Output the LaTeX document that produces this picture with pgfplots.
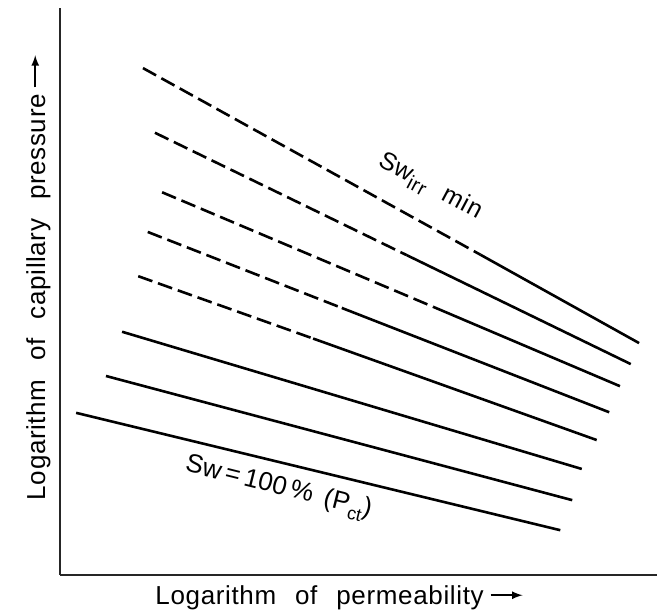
\documentclass[border=0pt]{standalone}
\usepackage{pgfplots}
\pgfplotsset{compat=1.18}
\usepackage{fontspec}
\setmainfont{Liberation Sans}
\newfontfamily\labfont[WordSpace=2.4, LetterSpace=2.5]{Liberation Sans}
\newcommand{\longarrow}{\hspace{3pt}\tikz[baseline=-0.1ex]\draw[line width=0.8pt, -{latex}] (0,4.2pt) -- (16pt,4.2pt);}

\begin{document}
\begin{tikzpicture}
\path[use as bounding box] (0,0) rectangle (330pt,305.5pt);
\begin{axis}[
    at={(30pt,18pt)}, anchor=south west,
    scale only axis, width=298.5pt, height=283.5pt,
    xmin=0, xmax=100, ymin=0, ymax=100,
    axis lines=left,
    axis line style={-, line width=1pt, black!85},
    xtick=\empty, ytick=\empty,
    clip=false,
    solid line/.style={black, line width=1.3pt},
    dashed line/.style={black, line width=1.3pt, dash pattern=on 7.5pt off 3pt},
  ]
  % dashed parts (upper five curves)
  \addplot[dashed line] coordinates {(13.9,89.4) (70.4,56.5)};
  \addplot[dashed line] coordinates {(15.9,78.0) (58.1,56.4)};
  \addplot[dashed line] coordinates {(17.1,67.5) (62.5,47.3)};
  \addplot[dashed line] coordinates {(14.7,60.5) (47.2,47.1)};
  \addplot[dashed line] coordinates {(13.1,52.7) (42.4,41.7)};
  % solid parts
  \addplot[solid line] coordinates {(70.4,56.5) (97.0,40.9)};
  \addplot[solid line] coordinates {(58.1,56.4) (95.6,37.2)};
  \addplot[solid line] coordinates {(62.5,47.3) (93.8,33.3)};
  \addplot[solid line] coordinates {(47.2,47.1) (92.0,28.7)};
  \addplot[solid line] coordinates {(42.4,41.7) (89.9,23.8)};
  \addplot[solid line] coordinates {(10.4,42.9) (87.4,18.7)};
  \addplot[solid line] coordinates {(7.7,35.1) (85.8,13.2)};
  \addplot[solid line] coordinates {(2.7,28.6) (83.8,7.9)};

  \node[rotate=-28] at (axis cs:62.0,68.4)
    {\labfont\fontsize{12.5}{14}\selectfont Sw\raisebox{-0.45ex}{\fontsize{10}{11}\selectfont irr} min};
  \node[rotate=-14] at (axis cs:36.6,15.3)
    {\fontsize{13}{15}\selectfont Sw\,=\,100\,\%\, (P\raisebox{-0.5ex}{\fontsize{9}{10}\selectfont ct})};

  \node[xshift=-7.5pt, anchor=base, rotate=90] at (axis description cs:0,0.525)
    {\labfont\fontsize{13}{15}\selectfont Logarithm of capillary pressure\longarrow};
  \node[yshift=-15pt, anchor=base] at (axis description cs:0.468,0)
    {\labfont\fontsize{13}{15}\selectfont Logarithm of permeability\longarrow};
\end{axis}
\end{tikzpicture}
\end{document}
